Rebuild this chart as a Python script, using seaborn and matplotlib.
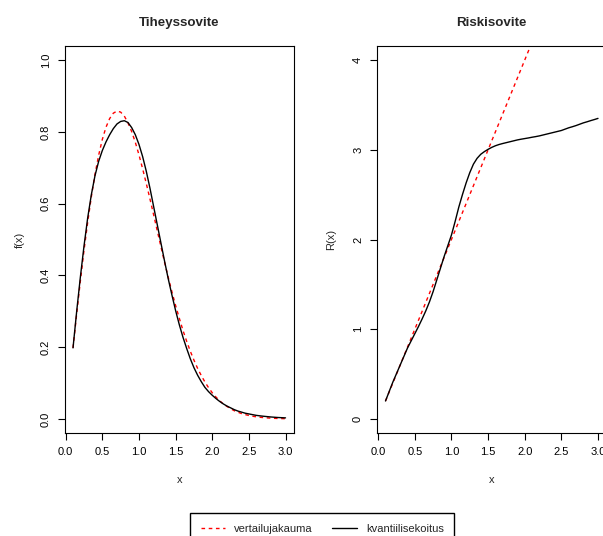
import numpy as np
import pandas as pd
import matplotlib
matplotlib.use("Agg")
import matplotlib.pyplot as plt
import seaborn as sns

# values (x step 0.05)
x_vals = [0.10, 0.15, 0.20, 0.25, 0.30, 0.35, 0.40, 0.45, 0.50, 0.55,
          0.60, 0.65, 0.70, 0.75, 0.80, 0.85, 0.90, 0.95, 1.00, 1.05,
          1.10, 1.15, 1.20, 1.25, 1.30, 1.35, 1.40, 1.45, 1.50, 1.55,
          1.60, 1.65, 1.70, 1.75, 1.80, 1.85, 1.90, 1.95, 2.00, 2.05,
          2.10, 2.15, 2.20, 2.25, 2.30, 2.35, 2.40, 2.45, 2.50, 2.55,
          2.60, 2.65, 2.70, 2.75, 2.80, 2.85, 2.90, 2.95, 3.00]

# Tiheyssovite (density)
vert_f = [0.198, 0.293, 0.384, 0.470, 0.548, 0.619, 0.682, 0.735, 0.779, 0.813,
          0.837, 0.852, 0.858, 0.855, 0.844, 0.825, 0.801, 0.771, 0.736, 0.697,
          0.656, 0.613, 0.569, 0.524, 0.480, 0.436, 0.394, 0.354, 0.316, 0.281,
          0.247, 0.217, 0.189, 0.164, 0.141, 0.121, 0.103, 0.087, 0.073, 0.061,
          0.051, 0.042, 0.035, 0.0285, 0.023, 0.0188, 0.015, 0.0121, 0.0097, 0.0076,
          0.0060, 0.0047, 0.0037, 0.0029, 0.0022, 0.0017, 0.0013, 0.0010, 0.0007]
kvant_f = [0.198, 0.300, 0.395, 0.482, 0.560, 0.625, 0.678, 0.718, 0.748, 0.772,
           0.792, 0.809, 0.822, 0.829, 0.831, 0.826, 0.812, 0.792, 0.765, 0.731,
           0.690, 0.643, 0.592, 0.541, 0.490, 0.439, 0.390, 0.345, 0.302, 0.263,
           0.228, 0.197, 0.168, 0.143, 0.122, 0.104, 0.088, 0.076, 0.066, 0.057,
           0.049, 0.042, 0.036, 0.031, 0.026, 0.022, 0.019, 0.016, 0.014, 0.012,
           0.010, 0.0087, 0.0075, 0.0065, 0.0055, 0.0047, 0.0040, 0.0035, 0.0030]

# Riskisovite (hazard)
vert_R = [0.2, 0.3, 0.4, 0.5, 0.6, 0.7, 0.8, 0.9, 1.0, 1.1,
          1.2, 1.3, 1.4, 1.5, 1.6, 1.7, 1.8, 1.9, 2.0, 2.1,
          2.2, 2.3, 2.4, 2.5, 2.6, 2.7, 2.8, 2.9, 3.0, 3.1,
          3.2, 3.3, 3.4, 3.5, 3.6, 3.7, 3.8, 3.9, 4.0, 4.1,
          4.2, 4.3, 4.4, 4.5, 4.6, 4.7, 4.8, 4.9, 5.0, 5.1,
          5.2, 5.3, 5.4, 5.5, 5.6, 5.7, 5.8, 5.9, 6.0]
kvant_R = [0.20, 0.305, 0.41, 0.505, 0.60, 0.695, 0.79, 0.87, 0.95, 1.03,
           1.115, 1.205, 1.305, 1.42, 1.55, 1.68, 1.81, 1.93, 2.05, 2.20,
           2.36, 2.50, 2.63, 2.745, 2.84, 2.905, 2.95, 2.98, 3.005, 3.027,
           3.045, 3.059, 3.07, 3.08, 3.09, 3.10, 3.11, 3.118, 3.125, 3.132,
           3.14, 3.147, 3.155, 3.165, 3.175, 3.185, 3.195, 3.205, 3.215, 3.23,
           3.245, 3.257, 3.27, 3.285, 3.30, 3.312, 3.325, 3.337, 3.35]

x_ticks = [0.0, 0.5, 1.0, 1.5, 2.0, 2.5, 3.0]
f_ticks = [0.0, 0.2, 0.4, 0.6, 0.8, 1.0]
R_ticks = [0, 1, 2, 3, 4]

dens = pd.DataFrame({"x": x_vals, "vert": vert_f, "kvant": kvant_f})
risk = pd.DataFrame({"x": x_vals, "vert": vert_R, "kvant": kvant_R})

sns.set_theme(style="white")
plt.rcParams["font.family"] = ["Liberation Sans", "DejaVu Sans"]
plt.rcParams["lines.dashed_pattern"] = [2.6, 2.6]

fig = plt.figure(figsize=(6.03, 5.36), dpi=100)
ax1 = fig.add_axes([0.107, 0.1916, 0.3806, 0.7231])
ax2 = fig.add_axes([0.6252, 0.1916, 0.3806, 0.7231])


def panel(ax, df, title, ylab, yticks, ylim, ylab_x):
    sns.lineplot(data=df, x="x", y="vert", ax=ax, color="red", linestyle="--",
                 linewidth=1.0, estimator=None, legend=False, label="vertailujakauma")
    sns.lineplot(data=df, x="x", y="kvant", ax=ax, color="black",
                 linewidth=1.0, estimator=None, legend=False, label="kvantiilisekoitus")
    if ax.get_legend() is not None:
        ax.get_legend().remove()
    ax.set_xlim(-0.016, 3.116)
    ax.set_ylim(*ylim)
    ax.set_xticks(x_ticks)
    ax.set_xticklabels([f"{v:.1f}" for v in x_ticks])
    ax.set_yticks(yticks)
    ax.set_yticklabels([f"{v:.1f}" if isinstance(v, float) else str(v) for v in yticks],
                       rotation=90, va="center")
    ax.tick_params(axis="both", direction="out", length=5, width=0.8, pad=5,
                   labelsize=8, colors="black", bottom=True, left=True)
    for s in ax.spines.values():
        s.set_color("black")
        s.set_linewidth(0.8)
    ax.set_title(title, fontsize=9.6, fontweight="bold", pad=14)
    ax.set_xlabel("x", fontsize=8, va="center")
    ax.xaxis.set_label_coords(0.5, -0.12)
    ax.set_ylabel(ylab, fontsize=8, va="center")
    ax.yaxis.set_label_coords(ylab_x, 0.5)


panel(ax1, dens, "Tiheyssovite", "f(x)", f_ticks, (-0.04, 1.04), -0.194)
panel(ax2, risk, "Riskisovite", "R(x)", R_ticks, (-0.16, 4.16), -0.2017)

handles, labels = ax1.get_legend_handles_labels()
fig.legend(handles, labels, loc="upper left", bbox_to_anchor=(0.315, 0.0425),
           ncol=2, fontsize=8, frameon=True, fancybox=False, edgecolor="black",
           framealpha=1, handlelength=2.2, handletextpad=0.8, columnspacing=1.8,
           borderpad=0.95, borderaxespad=0)

fig.savefig("out.png", dpi=100)
